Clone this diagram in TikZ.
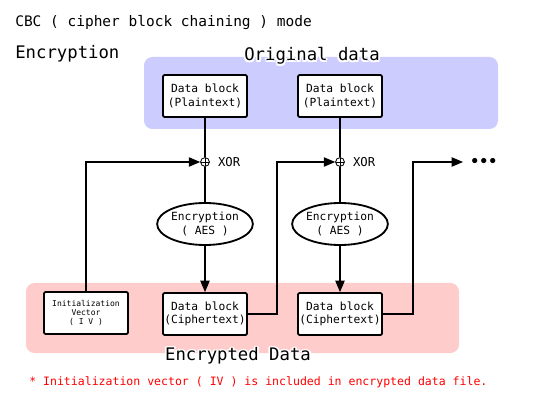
\documentclass[tikz,border=0pt]{standalone}
\usepackage{fontspec}
\setmainfont{DejaVu Sans Mono}
\usepackage{xcolor}
\usetikzlibrary{arrows}
\usetikzlibrary{positioning,shapes.geometric,shadows,calc}
\definecolor{plainbg}{RGB}{204,204,255}
\definecolor{cipherbg}{RGB}{255,204,204}
\newcommand{\boxfont}{\fontsize{8}{9.5}\selectfont}
\newcommand{\ivfont}{\fontsize{5.7}{6.4}\selectfont}
\newcommand{\bigfont}{\fontsize{12.3}{14}\selectfont}

\begin{document}
\begin{tikzpicture}[x=0.025cm, y=-0.025cm, >=triangle 45,
	every node/.style={inner sep=0pt},
	blockbox/.style={draw, line width=1.3pt, rounded corners=1pt, fill=white,
		minimum width=2.1cm, minimum height=1.05cm, align=center, font=\boxfont,
		drop shadow={shadow xshift=0.7pt, shadow yshift=-0.7pt, opacity=0.35}},
	aesbox/.style={ellipse, draw, line width=1.3pt, fill=white,
		minimum width=2.3cm, minimum height=1.05cm, align=center, font=\boxfont},
	xorsign/.style={circle, draw, line width=0.6pt, minimum size=0.22cm,
		path picture={\draw (path picture bounding box.north) -- (path picture bounding box.south)
			(path picture bounding box.west) -- (path picture bounding box.east);}},
	halo/.style={text=white, font=\bigfont, anchor=base},
	flow/.style={line width=0.85pt}]
		
		\useasboundingbox (0,0) rectangle (560,400);
		
		% areas
		\fill[plainbg, rounded corners=6pt] (144,57) rectangle (498,129);
		\fill[cipherbg, rounded corners=6pt] (26,283) rectangle (459,353);
		
		% headings
		\node[anchor=base west, font=\fontsize{10.3}{12}\selectfont] (title) at (15,27) {CBC ( cipher block chaining ) mode};
		\node[anchor=base west, font=\bigfont] (enc) at (15,59) {Encryption};
		\foreach \a in {0,45,...,315}
			\node[halo] at ($(312,61)+(\a:1.3pt)$) {Original data};
		\node[anchor=base, font=\bigfont] (orig) at (312,61) {Original data};
		\foreach \a in {0,45,...,315}
			\node[halo] at ($(238,361)+(\a:1.3pt)$) {Encrypted Data};
		\node[anchor=base, font=\bigfont] (encd) at (238,361) {Encrypted Data};
		
		% blocks
		\node[blockbox] (pt1) at (205,96) {Data block\\(Plaintext)};
		\node[blockbox] (pt2) at (340,96) {Data block\\(Plaintext)};
		\node[xorsign] (xor1) at (205,162) {};
		\node[xorsign] (xor2) at (340,162) {};
		\node[right=0.2cm of xor1, font=\fontsize{8.7}{10}\selectfont] (xl1) {XOR};
		\node[right=0.2cm of xor2, font=\fontsize{8.7}{10}\selectfont] (xl2) {XOR};
		\node[aesbox] (aes1) at (205,224) {Encryption\\( AES )};
		\node[aesbox] (aes2) at (340,224) {Encryption\\( AES )};
		\node[blockbox, font=\ivfont] (iv) at (86,313) {Initialization\\Vector\\( I V )};
		\node[blockbox] (ct1) at (205,314) {Data block\\(Ciphertext)};
		\node[blockbox] (ct2) at (340,314) {Data block\\(Ciphertext)};
		\coordinate (nxt) at (463,162);
		\node[right=0.18cm of nxt, font=\fontsize{10.5}{12}\selectfont\bfseries] (more) {•••};
		
		\node[anchor=base west, text=red, font=\fontsize{8.2}{10}\selectfont] (note) at (29,386)
			{* Initialization vector ( IV ) is included in encrypted data file.};
		
		% connections
		\draw[flow] (pt1) -- (xor1) -- (aes1);
		\draw[flow] (pt2) -- (xor2) -- (aes2);
		\draw[flow,->] (aes1) -- (ct1);
		\draw[flow,->] (aes2) -- (ct2);
		\draw[flow,->] (iv.north) |- (xor1.west);
		\draw[flow,->] (ct1.east) -- ++(29,0) |- (xor2.west);
		\draw[flow,->] (ct2.east) -- ++(30,0) |- (nxt);
		
\end{tikzpicture}
\end{document}
